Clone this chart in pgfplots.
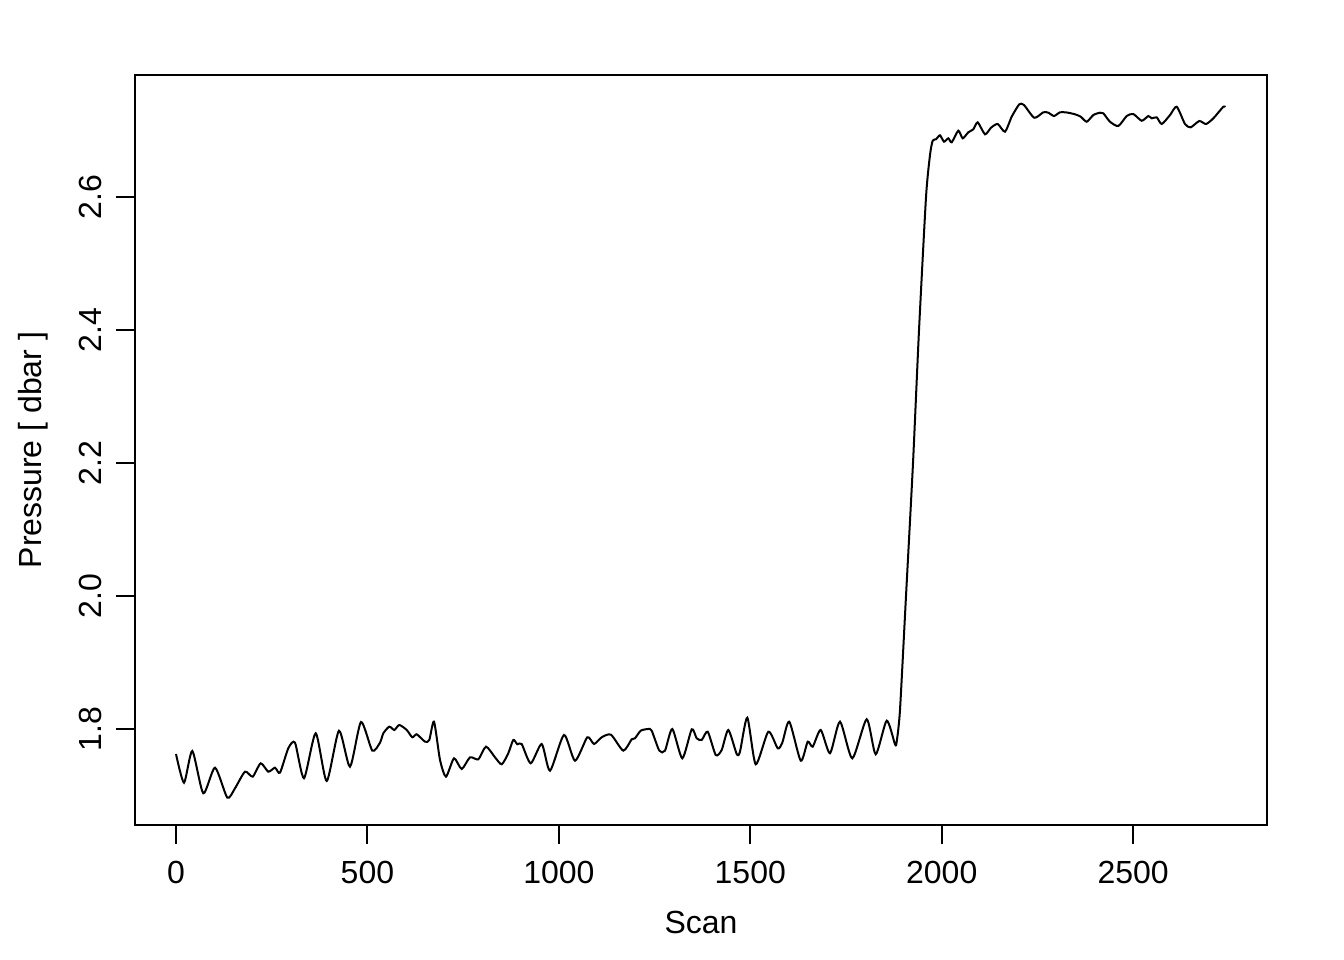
\documentclass[border=0pt]{standalone}
\usepackage{pgfplots}
\pgfplotsset{compat=1.18}
\usepackage{fontspec}
\setmainfont{Liberation Sans}
\begin{document}
\begin{tikzpicture}
\begin{axis}[
  scale only axis,
  width=424.5bp, height=281.25bp,
  xmin=-107.1, xmax=2849.6,
  ymin=1.6556, ymax=2.7835,
  font=\fontsize{12bp}{14.4bp}\selectfont,
  /pgf/number format/assume math mode=true,
  xtick={0,500,...,2500},
  ytick={1.8,2.0,2.2,2.4,2.6},
  tick pos=left,
  tick align=outside,
  major tick length=7.2bp,
  axis line style={line width=0.75bp},
  every tick/.style={line width=0.75bp, black},
  xticklabel style={/pgf/number format/fixed, /pgf/number format/1000 sep={}},
  yticklabel style={/pgf/number format/fixed, /pgf/number format/fixed zerofill, /pgf/number format/precision=1, rotate=90, anchor=south},
  xticklabel shift=3bp,
  yticklabel shift=1.9bp,
  xlabel={Scan},
  ylabel={Pressure [ dbar ]},
  every axis x label/.style={at={(axis description cs:0.5,0)}, anchor=center, yshift=-36.4bp},
  every axis y label/.style={at={(axis description cs:0,0.5)}, anchor=center, rotate=90, yshift=38.25bp},
]
\addplot[black, line width=0.75bp, smooth, tension=0.4] coordinates {
(0,1.7624) (20.9,1.7192) (42.6,1.7669) (71.3,1.7033) (101.9,1.7418) (134.0,1.6967)
(154.1,1.7108) (180.2,1.7358) (200.3,1.7283) (221.2,1.7484) (241.1,1.7358) (258.6,1.7418)
(271.6,1.7343) (293.3,1.7710) (310.8,1.7794) (334.3,1.7259) (364.9,1.7935) (393.6,1.7218)
(425.7,1.7974) (454.5,1.7433) (483.2,1.8105) (512.7,1.7674) (532.8,1.7794) (541.5,1.7935)
(557.1,1.8035) (570.2,1.7985) (583.2,1.8060) (602.6,1.7985) (617.2,1.7875) (628.7,1.7920)
(650.4,1.7809) (661.6,1.7835) (673.9,1.8110) (689.6,1.7534) (705.2,1.7283) (726.1,1.7559)
(746.2,1.7398) (767.9,1.7574) (789.6,1.7544) (809.7,1.7734) (833.2,1.7574) (850.7,1.7469)
(867.9,1.7635) (881.0,1.7835) (891.5,1.7770) (902.9,1.7774) (926.5,1.7484) (955.2,1.7774)
(976.9,1.7373) (1013.4,1.7910) (1042.2,1.7523) (1074.3,1.7875) (1091.8,1.7774) (1111.9,1.7875)
(1136.2,1.7914) (1168.3,1.7674) (1190.2,1.7845) (1198.9,1.7860) (1213.8,1.7974) (1233.6,1.8000)
(1242.5,1.7974) (1262.4,1.7674) (1277.2,1.7674) (1296.3,1.8000) (1322.4,1.7559) (1347.0,1.7995)
(1360.0,1.7860) (1373.1,1.7835) (1388.8,1.7959) (1409.7,1.7609) (1425.3,1.7684) (1442.6,1.7985)
(1464.5,1.7624) (1473.1,1.7659) (1492.2,1.8170) (1514.2,1.7469) (1547.1,1.7959) (1571.6,1.7710)
(1583.6,1.7794) (1601.9,1.8110) (1631.7,1.7523) (1650.0,1.7809) (1663.0,1.7734) (1683.9,1.7985)
(1708.2,1.7635) (1734.3,1.8110) (1766.4,1.7559) (1804.0,1.8146) (1827.6,1.7620) (1856.3,1.8125)
(1878.0,1.7770) (1882.4,1.7809) (1891.0,1.8286) (1906.7,2.0) (1925.0,2.2) (1940.7,2.4)
(1959.0,2.6) (1969.4,2.6632) (1976.4,2.6847) (1985.0,2.6868) (1995.5,2.6928) (2005.9,2.6832)
(2017.2,2.6883) (2026.1,2.6823) (2043.3,2.6997) (2054.8,2.6883) (2069.4,2.6973) (2082.5,2.7018)
(2094.0,2.7123) (2113.1,2.6943) (2128.7,2.7042) (2146.2,2.7098) (2165.3,2.6982) (2182.8,2.7208)
(2202.6,2.7394) (2214.9,2.7383) (2241.8,2.7192) (2265.3,2.7274) (2278.4,2.7268) (2293.3,2.7218)
(2309.0,2.7274) (2326.5,2.7271) (2348.1,2.7244) (2363.0,2.7208) (2378.7,2.7132) (2396.0,2.7233)
(2413.4,2.7268) (2422.1,2.7259) (2439.5,2.7132) (2461.2,2.7068) (2483.2,2.7218) (2500.4,2.7248)
(2522.4,2.7147) (2539.6,2.7218) (2548.5,2.7183) (2561.6,2.7198) (2574.6,2.7098) (2596.3,2.7233)
(2613.8,2.7358) (2635.4,2.7098) (2650.3,2.7048) (2672.8,2.7143) (2690.3,2.7098) (2709.4,2.7183)
(2735.5,2.7358) (2739.9,2.7349)
};
\end{axis}
\path[use as bounding box] (-50.625bp,-50.625bp) rectangle (453.375bp,309.375bp);
\end{tikzpicture}
\end{document}
